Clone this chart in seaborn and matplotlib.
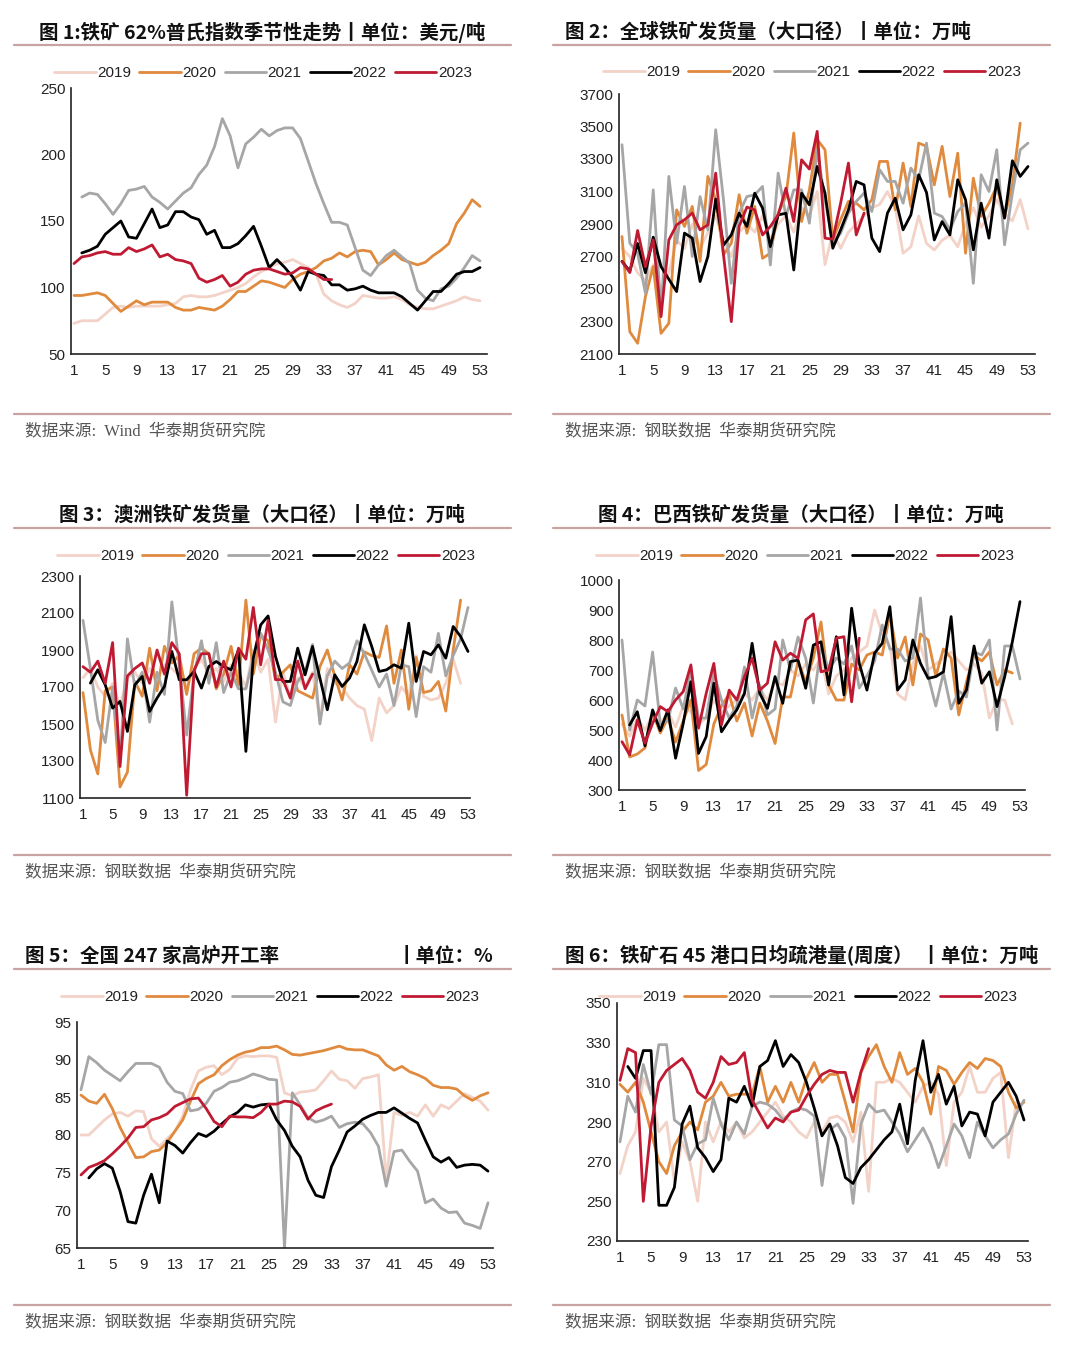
import matplotlib
matplotlib.use("Agg")
import matplotlib.pyplot as plt
from matplotlib.lines import Line2D
import seaborn as sns

# ---- data (weekly, week index 1..53) ----
years = ["2019", "2020", "2021", "2022", "2023"]
colors = ["#f3d2c7", "#e08a3e", "#a6a6a6", "#000000", "#c01a33"]

# fig 1: 62% Platts index, USD/t
p1_2019 = [73, 75, 75, 75, 80, 85, 86, 85, 86, 86, 86, 86, 87, 88, 93, 94, 93, 93, 94, 96,
           98, 100, 103, 108, 112, 115, 118, 119, 121, 118, 115, 110, 95, 90, 87, 85, 88, 94, 93, 92,
           92, 93, 91, 87, 85, 84, 84, 86, 88, 90, 93, 91, 90]
p1_2020 = [94, 94, 95, 96, 94, 88, 82, 86, 90, 87, 89, 89, 89, 85, 83, 83, 85, 84, 83, 86,
           91, 97, 97, 101, 105, 104, 102, 100, 106, 110, 112, 115, 120, 122, 126, 123, 127, 128, 127, 117,
           121, 126, 121, 119, 117, 119, 124, 128, 133, 148, 156, 166, 161]
p1_2021 = [168, 171, 170, 163, 155, 163, 173, 174, 176, 168, 164, 159, 165, 171, 175, 185, 192, 206, 227, 214,
           190, 208, 213, 219, 214, 218, 220, 220, 212, 195, 178, 163, 149, 149, 147, 130, 113, 109, 117, 124,
           128, 123, 118, 98, 92, 90, 99, 101, 107, 115, 124, 120]
p1_2022 = [126, 128, 131, 140, 145, 150, 138, 137, 148, 159, 145, 147, 157, 157, 153, 151, 140, 143, 130, 130,
           133, 139, 146, 131, 115, 121, 115, 108, 98, 112, 110, 109, 102, 102, 98, 99, 101, 98, 96, 96,
           96, 93, 88, 83, 90, 97, 97, 103, 110, 112, 112, 115]
p1_2023 = [118, 123, 124, 126, 127, 125, 125, 130, 127, 129, 132, 123, 125, 121, 120, 118, 107, 104, 106, 109,
           101, 104, 110, 113, 114, 114, 112, 110, 111, 115, 114, 110, 106, 106]

# fig 2: global shipments
p2_2019 = [2750, 2700, 2600, 2550, 2650, 2500, 2600, 2800, 2750, 2900, 2750, 2850, 2950, 2800, 2700, 2850,
           2900, 2850, 2950, 2800, 2900, 2950, 2850, 3000, 2950, 3100, 2650, 2850, 2750, 2850, 2900, 2950,
           3000, 3020, 3100, 3000, 2720, 2760, 2950, 2780, 2740, 2800, 2830, 2760, 2900, 3000, 2880, 2950,
           3050, 2960, 2920, 3050, 2870]
p2_2020 = [2823, 2237, 2166, 2453, 2638, 2227, 2289, 2987, 2885, 3008, 2669, 3193, 3049, 2710, 2782, 3080,
           2843, 3008, 2689, 2720, 2967, 3069, 3460, 2915, 3110, 3419, 3357, 2802, 2926, 3039, 3028, 2987,
           3049, 3285, 3285, 2987, 3275, 3008, 3398, 3378, 3141, 3378, 3069, 3336, 2720, 3182, 2946, 3028,
           3131, 2946, 3141, 3521]
p2_2021 = [3388, 2782, 2720, 2474, 3110, 2350, 3193, 2782, 3131, 2700, 3069, 2864, 3480, 3049, 2535, 2967,
           3069, 3080, 3131, 2648, 3213, 2946, 3110, 3110, 2905, 3357, 3049, 2782, 2843, 2967, 3039, 3090,
           2977, 3234, 3162, 3162, 3028, 3244, 3172, 3398, 2967, 2946, 2864, 2977, 3028, 2535, 3203, 3100,
           3357, 2772, 3090, 3357, 3398]
p2_2022 = [2670, 2610, 2780, 2600, 2819, 2638, 2560, 2484, 2844, 2813, 2546, 2700, 3053, 2770, 2833, 2967,
           2885, 3090, 2998, 2761, 2956, 2966, 2617, 3090, 3018, 3254, 3090, 2751, 2864, 2987, 3162, 3141,
           2813, 2730, 2967, 3059, 2864, 2956, 3203, 3094, 2802, 2915, 2833, 3172, 3049, 2741, 3028, 2813,
           3172, 2936, 3289, 3193, 3254]
p2_2023 = [2669, 2601, 2860, 2638, 2802, 2330, 2802, 2895, 2926, 2967, 2864, 2895, 3213, 2710, 2299, 2885,
           3004, 2987, 2833, 2885, 2956, 3121, 2915, 3295, 3238, 3470, 2813, 2806, 3028, 3275, 2833, 2967]

# fig 3: Australia shipments
p3_2019 = [1750, 1800, 1700, 1650, 1720, 1600, 1750, 1780, 1720, 1800, 1750, 1820, 1800, 1760, 1700, 1800,
           1850, 1770, 1800, 1730, 1820, 1780, 1700, 1900, 1780, 1850, 1510, 1780, 1650, 1750, 1700, 1780,
           1520, 1800, 1720, 1700, 1640, 1600, 1580, 1410, 1640, 1560, 1600, 1700, 1650, 1870, 1650, 1630,
           1640, 1720, 1850, 1720]
p3_2020 = [1670, 1360, 1230, 1680, 1700, 1160, 1240, 1730, 1650, 1910, 1680, 1920, 1830, 1870, 1660, 1880,
           1910, 1880, 1690, 1770, 1920, 1710, 2170, 1770, 1980, 1950, 1740, 1780, 1820, 1680, 1660, 1640,
           1810, 1900, 1760, 1630, 1820, 1770, 1890, 1870, 1860, 2030, 1720, 1900, 1580, 1860, 1670, 1680,
           1730, 1570, 1900, 2170]
p3_2021 = [2060, 1800, 1520, 1400, 1700, 1300, 1960, 1700, 1780, 1510, 1780, 1660, 2160, 1820, 1440, 1770,
           1950, 1720, 1940, 1670, 1780, 1690, 1690, 1860, 1990, 1900, 1780, 1620, 1600, 1730, 1780, 1930,
           1500, 1760, 1840, 1800, 1830, 1950, 1880, 1790, 1700, 1770, 1600, 1820, 1810, 1540, 1810, 1780,
           1990, 1760, 1870, 1960, 2130]
p3_2022 = [1721, 1793, 1712, 1586, 1622, 1460, 1712, 1757, 1568, 1640, 1703, 1892, 1739, 1739, 1784, 1694,
           1811, 1838, 1811, 1793, 1901, 1352, 1856, 2036, 2084, 1865, 1730, 1730, 1910, 1766, 1919, 1748,
           1577, 1766, 1703, 1748, 1838, 2036, 1919, 1784, 1793, 1820, 1802, 2045, 1730, 1892, 1874, 1928,
           1856, 2027, 1973, 1892]
p3_2023 = [1810, 1780, 1840, 1720, 1940, 1270, 1760, 1800, 1830, 1720, 1900, 1770, 1940, 1880, 1115, 1790,
           1880, 1880, 1700, 1840, 1700, 1910, 1850, 2130, 1820, 2060, 1740, 1740, 1640, 1840, 1690, 1770]

# fig 4: Brazil shipments
p4_2019 = [520, 480, 540, 500, 550, 520, 560, 510, 580, 560, 520, 540, 600, 560, 580, 600, 620, 600, 640, 600,
           660, 650, 700, 680, 720, 700, 740, 620, 680, 700, 740, 760, 780, 900, 820, 780, 620, 600, 720, 780,
           700, 720, 740, 760, 730, 700, 720, 690, 540, 600, 600, 520]
p4_2020 = [550, 410, 420, 440, 560, 490, 540, 460, 530, 600, 365, 385, 520, 580, 620, 530, 590, 480, 590, 530,
           455, 610, 610, 730, 660, 740, 860, 650, 600, 600, 720, 700, 750, 760, 750, 890, 740, 810, 650, 820,
           800, 680, 770, 740, 550, 660, 750, 730, 760, 650, 700, 690]
p4_2021 = [800, 500, 600, 580, 760, 520, 530, 640, 570, 700, 540, 540, 690, 600, 540, 580, 710, 540, 650, 550,
           570, 800, 700, 810, 740, 590, 780, 700, 740, 720, 780, 640, 680, 730, 850, 770, 770, 730, 740, 940,
           680, 580, 690, 570, 630, 610, 760, 750, 800, 500, 780, 780, 670]
p4_2022 = [517, 561, 447, 567, 498, 567, 406, 522, 661, 422, 478, 656, 494, 533, 567, 622, 789, 622, 572, 678,
           589, 728, 733, 639, 783, 794, 650, 811, 617, 906, 722, 633, 756, 789, 911, 633, 667, 800, 722, 672,
           678, 694, 878, 589, 633, 780, 656, 694, 578, 678, 794, 928]
p4_2023 = [461, 417, 533, 456, 522, 578, 561, 600, 628, 717, 506, 622, 722, 517, 633, 600, 678, 739, 633, 656,
           794, 733, 756, 739, 867, 887, 694, 700, 806, 811, 594, 806]

# fig 5: 247 blast furnace utilisation, %
p5_2019 = [80, 80, 81, 82, 82.8, 83, 82.5, 83.2, 83.1, 79.5, 78.5, 79.5, 80.5, 82.5, 86, 88.5, 89, 89.2, 88, 88.7,
           90.2, 90.5, 90.4, 90.5, 90.5, 90.3, 85.6, 85.2, 85.7, 85.8, 86, 87.2, 88.5, 87.4, 87.2, 86.2, 87.5, 87.7,
           88, 74, 83, 82.6, 83, 82.5, 84, 82.5, 84, 83.5, 84.5, 85.5, 85, 84.5, 83.3]
p5_2020 = [85.3, 84.5, 84.2, 85.4, 83.5, 81, 79, 77, 77.1, 77.8, 78, 79, 80.5, 82, 84.5, 86.8, 87.5, 88, 89.2, 90,
           90.6, 91, 91.2, 91.6, 91.6, 91.8, 91.3, 90.7, 90.6, 90.8, 91, 91.2, 91.5, 91.8, 91.4, 91.3, 91.3, 90.9,
           90.5, 89.3, 88.6, 89.1, 88.4, 88, 87.5, 86.6, 86.3, 86.3, 86.1, 85.2, 84.6, 85.2, 85.6]
p5_2021 = [86, 90.4, 89.6, 88.6, 87.9, 87.2, 88.4, 89.5, 89.5, 89.5, 89, 87, 85.8, 85.5, 83.2, 83.4, 84.2, 85.8,
           86.3, 87, 87.2, 87.6, 88.1, 87.8, 87.4, 87.3, 65, 85.6, 84, 82.3, 81.7, 82, 82.5, 81, 81.5, 81.7, 81.5,
           80.3, 78.5, 73.2, 77.8, 78, 76.5, 75.2, 71, 71.5, 70.3, 69.7, 69.8, 68.3, 68, 67.6, 71]
p5_2022 = [74.3, 75.5, 76.2, 75.6, 72.5, 68.5, 68.3, 72, 74.8, 71, 79.2, 78.6, 77.6, 79, 80.2, 79.8, 80.5, 81.5,
           82.4, 83, 84, 83.7, 84, 84.1, 82, 80.6, 78.5, 77.1, 74, 72, 71.7, 75.8, 78, 80.4, 81.2, 82.1, 82.6, 83,
           83, 83.6, 82.9, 82.2, 81.6, 79.3, 77.1, 76.4, 77, 75.7, 76, 76.1, 76, 75.2]
p5_2023 = [74.7, 75.7, 76.1, 76.6, 77.5, 78.5, 79.6, 81, 81.1, 82, 82.3, 82.8, 83.8, 84.3, 84.8, 84.9, 83.5, 81.8,
           81.1, 82.5, 82.4, 82.4, 82.3, 83, 84.1, 84.1, 84.5, 84.4, 83.8, 82.1, 83.2, 83.7, 84.1]

# fig 6: 45-port daily clearance
p6_2019 = [264, 278, 285, 312, 305, 285, 290, 260, 280, 270, 250, 290, 280, 290, 285, 290, 282, 285, 290, 295,
           300, 293, 290, 285, 282, 290, 285, 292, 293, 290, 280, 295, 255, 310, 310, 312, 310, 305, 300, 308,
           310, 304, 268, 300, 305, 318, 305, 305, 312, 315, 272, 300]
p6_2020 = [309, 305, 310, 300, 285, 270, 264, 278, 285, 290, 286, 300, 303, 310, 303, 304, 304, 304, 318, 300,
           308, 300, 310, 300, 312, 320, 310, 314, 314, 300, 285, 315, 323, 329, 318, 310, 325, 314, 317, 310,
           294, 318, 316, 309, 315, 320, 317, 322, 321, 318, 305, 297, 300]
p6_2021 = [280, 303, 295, 319, 304, 329, 329, 291, 288, 271, 279, 281, 302, 289, 281, 290, 284, 298, 300, 299,
           296, 291, 295, 297, 296, 293, 258, 286, 289, 282, 249, 289, 299, 295, 296, 290, 284, 275, 281, 287,
           279, 267, 278, 289, 283, 272, 290, 283, 277, 281, 284, 294, 301]
p6_2022 = [318, 312, 326, 326, 248, 248, 257, 289, 298, 277, 272, 265, 271, 302, 300, 308, 298, 318, 321, 331,
           318, 324, 320, 310, 297, 283, 289, 278, 262, 259, 267, 271, 276, 281, 285, 299, 279, 311, 331, 305,
           314, 299, 308, 288, 295, 294, 283, 300, 305, 310, 303, 291]
p6_2023 = [311, 327, 325, 250, 288, 310, 316, 319, 322, 316, 305, 302, 310, 323, 319, 320, 325, 301, 294, 287,
           292, 290, 295, 296, 303, 309, 314, 316, 315, 315, 300, 315, 327]

# first week of each series (2019..2023) per figure
starts = {
    1: [1, 1, 2, 2, 1],
    2: [1, 1, 1, 1, 1],
    3: [1, 1, 1, 2, 1],
    4: [1, 1, 1, 2, 1],
    5: [1, 1, 1, 2, 1],
    6: [1, 1, 1, 2, 1],
}
series = {
    1: [p1_2019, p1_2020, p1_2021, p1_2022, p1_2023],
    2: [p2_2019, p2_2020, p2_2021, p2_2022, p2_2023],
    3: [p3_2019, p3_2020, p3_2021, p3_2022, p3_2023],
    4: [p4_2019, p4_2020, p4_2021, p4_2022, p4_2023],
    5: [p5_2019, p5_2020, p5_2021, p5_2022, p5_2023],
    6: [p6_2019, p6_2020, p6_2021, p6_2022, p6_2023],
}
yticks = {
    1: list(range(50, 251, 50)),
    2: list(range(2100, 3701, 200)),
    3: list(range(1100, 2301, 200)),
    4: list(range(300, 1001, 100)),
    5: list(range(65, 96, 5)),
    6: list(range(230, 351, 20)),
}
xticks = list(range(1, 54, 4))

# ---- layout in pixels: axes left/right/top/bottom, x of week1/week53, legend centre ----
W, H = 1080, 1371
layout = {
    1: dict(box=(71, 487, 88, 354), wk=(74, 480), leg=(263, 73)),
    2: dict(box=(619, 1035, 94, 354), wk=(622, 1028), leg=(812, 72)),
    3: dict(box=(80, 470, 576, 798), wk=(83, 468), leg=(266, 556)),
    4: dict(box=(619, 1025, 580, 790), wk=(622, 1020), leg=(805, 556)),
    5: dict(box=(77, 493, 1022, 1248), wk=(81, 488), leg=(270, 997)),
    6: dict(box=(617, 1028, 1003, 1241), wk=(620, 1024), leg=(808, 997)),
}

sns.set_style("white")
plt.rcParams["font.family"] = ["Liberation Sans", "Noto Sans CJK SC", "DejaVu Sans"]
CJK = ["Noto Sans CJK SC", "DejaVu Sans"]

fig = plt.figure(figsize=(W / 100, H / 100), dpi=100)


def fx(x):
    return x / W


def fy(y):
    return 1 - y / H


for k in range(1, 7):
    L = layout[k]
    l, r, t, b = L["box"]
    ax = fig.add_axes([fx(l), fy(b), (r - l) / W, (b - t) / H])
    for yr, col, st, vals in zip(years, colors, starts[k], series[k]):
        weeks = list(range(st, st + len(vals)))
        sns.lineplot(x=weeks, y=vals, ax=ax, color=col, lw=2.0, label=yr)
    x1, x53 = L["wk"]
    unit = (x53 - x1) / 52
    ax.set_xlim(1 - (x1 - l) / unit, 53 + (r - x53) / unit)
    ax.set_ylim(yticks[k][0], yticks[k][-1])
    ax.set_xticks(xticks)
    ax.set_yticks(yticks[k])
    ax.tick_params(axis="x", direction="in", length=4, width=1, color="#333",
                   labelsize=11, labelcolor="#222", pad=7)
    ax.tick_params(axis="y", length=0, labelsize=11, labelcolor="#222", pad=4)
    for s in ["top", "right"]:
        ax.spines[s].set_visible(False)
    for s in ["left", "bottom"]:
        ax.spines[s].set_color("#222")
        ax.spines[s].set_linewidth(1.2)
    ax.set_xlabel("")
    ax.set_ylabel("")
    cx, cy = L["leg"]
    ax.legend(loc="center", bbox_to_anchor=(fx(cx), fy(cy)), bbox_transform=fig.transFigure,
              ncol=5, frameon=False, fontsize=11, handlelength=2.7, handletextpad=0.1,
              columnspacing=0.55, labelcolor="#222")

# ---- titles, rules and source notes ----
rule_col = "#c9a2a2"
for y in (45, 528, 969, 414, 855, 1305):
    fig.add_artist(Line2D([fx(14), fx(511)], [fy(y), fy(y)], color=rule_col, lw=1.6))
    fig.add_artist(Line2D([fx(553), fx(1050)], [fy(y), fy(y)], color=rule_col, lw=1.6))

tkw = dict(family=CJK, fontsize=14, fontweight="bold", color="#111", va="center")
fig.text(fx(262), fy(32), "图 1:铁矿 62%普氏指数季节性走势丨单位：美元/吨", ha="center", **tkw)
fig.text(fx(565), fy(32), "图 2：全球铁矿发货量（大口径）丨单位：万吨", ha="left", **tkw)
fig.text(fx(262), fy(515), "图 3：澳洲铁矿发货量（大口径）丨单位：万吨", ha="center", **tkw)
fig.text(fx(801), fy(515), "图 4：巴西铁矿发货量（大口径）丨单位：万吨", ha="center", **tkw)
fig.text(fx(25), fy(956), "图 5：全国 247 家高炉开工率", ha="left", **tkw)
fig.text(fx(493), fy(956), "丨单位：%", ha="right", **tkw)
fig.text(fx(565), fy(956), "图 6：铁矿石 45 港口日均疏港量(周度）  丨单位：万吨", ha="left", **tkw)

skw = dict(family=["Liberation Serif", "Noto Sans CJK SC"], fontsize=12, color="#555", va="center")
fig.text(fx(25), fy(431), "数据来源:  Wind  华泰期货研究院", **skw)
fig.text(fx(565), fy(431), "数据来源:  钢联数据  华泰期货研究院", **skw)
fig.text(fx(25), fy(872), "数据来源:  钢联数据  华泰期货研究院", **skw)
fig.text(fx(565), fy(872), "数据来源:  钢联数据  华泰期货研究院", **skw)
fig.text(fx(25), fy(1322), "数据来源:  钢联数据  华泰期货研究院", **skw)
fig.text(fx(565), fy(1322), "数据来源:  钢联数据  华泰期货研究院", **skw)

fig.savefig("out.png", dpi=100)
